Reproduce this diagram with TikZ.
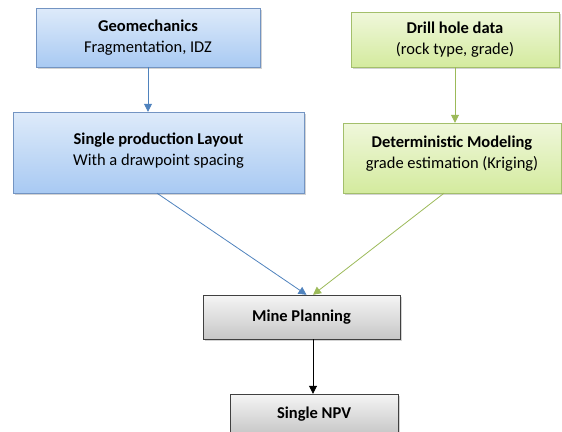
\documentclass[tikz,border=0pt]{standalone}
\usepackage{fontspec}
\setmainfont{Carlito}
\usetikzlibrary{arrows.meta,shadows}
\usetikzlibrary{positioning}

\tikzset{
  box/.style={draw,align=center,inner sep=2pt,
    font=\fontsize{16.5}{21}\selectfont,
    drop shadow={shadow xshift=1.6pt,shadow yshift=-1.6pt,opacity=0.35}},
  bluebox/.style={box,draw=bluedraw,top color=bluetop,bottom color=bluebot},
  greenbox/.style={box,draw=greendraw,top color=greentop,bottom color=greenbot},
  graybox/.style={box,draw=graydraw,top color=graytop,bottom color=graybot},
  tip/.style={-{Triangle[length=8pt,width=8pt]},line width=0.8pt}
}

\begin{document}
\begin{tikzpicture}[x=1pt,y=-1pt]

		    \definecolor{bluedraw}{rgb}{0.45,0.58,0.76}
		    \definecolor{bluetop}{rgb}{0.87,0.92,0.98}
		    \definecolor{bluebot}{rgb}{0.66,0.79,0.95}
		    \definecolor{greendraw}{rgb}{0.64,0.75,0.42}
		    \definecolor{greentop}{rgb}{0.94,0.97,0.86}
		    \definecolor{greenbot}{rgb}{0.83,0.92,0.62}
		    \definecolor{graydraw}{rgb}{0.25,0.25,0.25}
		    \definecolor{graytop}{rgb}{0.96,0.96,0.96}
		    \definecolor{graybot}{rgb}{0.78,0.78,0.78}
		    \definecolor{bluearrow}{rgb}{0.31,0.51,0.74}
		    \definecolor{greenarrow}{rgb}{0.61,0.73,0.35}

		    \useasboundingbox (0,0) rectangle (562,431);

		    \node(geo) [bluebox,minimum width=224,minimum height=59] at (148,37.5) {\textbf{Geomechanics}\\ Fragmentation, IDZ};
		    \node(layout) [bluebox,minimum width=291,minimum height=81] at (158.5,152.5) {\textbf{Single production Layout}\\ With a drawpoint spacing\\[-14pt]};

		    \node(drill) [greenbox,minimum width=208,minimum height=55] at (455,39.5) {\textbf{Drill hole data}\\ (rock type, grade)};
		    \node(model) [greenbox,minimum width=218,minimum height=70] at (452,158) {\textbf{Deterministic Modeling}\\ grade estimation (Kriging)\\[-10pt]};

		    \node(plan) [graybox,minimum width=197,minimum height=44] at (301.5,317) {\textbf{Mine Planning}};
		    \node(npv) [graybox,minimum width=168,minimum height=40] at (314,414) {\textbf{Single NPV}};

		    \draw[tip,bluearrow] (geo.south) -- (geo.south |- layout.north);
		    \draw[tip,greenarrow] (drill.south) -- (drill.south |- model.north);
		    \draw[tip,bluearrow] (layout.south) ++(-1.5,0) -- ([xshift=5pt]plan.north);
		    \draw[tip,greenarrow] (model.south) ++(-8,0) -- ([xshift=11.5pt]plan.north);
		    \draw[tip,black] ([xshift=-1pt]npv.north |- plan.south) -- ([xshift=-1pt]npv.north);

\end{tikzpicture}
\end{document}
